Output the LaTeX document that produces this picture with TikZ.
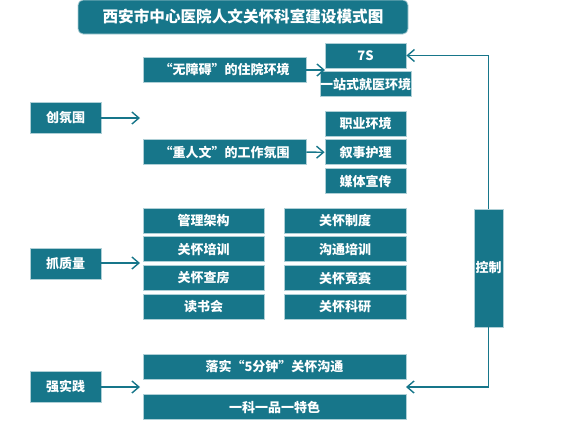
\documentclass[tikz,border=0pt]{standalone}
\usepackage{fontspec}
\setmainfont{Noto Sans CJK SC}
\usepackage{tikz}
\usetikzlibrary{arrows.meta,positioning}
\definecolor{kteal}{HTML}{17768A}
\tikzset{
	box/.style={draw=white!65!kteal, line width=0.8pt, fill=kteal, text=white, inner sep=0pt, minimum height=25pt, font=\fontsize{13}{15}\selectfont\bfseries},
	side/.style={box, minimum width=71pt, minimum height=31pt},
	titlebox/.style={box, rounded corners=5pt, minimum width=330pt, minimum height=34pt, font=\fontsize{15.6}{18}\selectfont\bfseries},
	link/.style={draw=kteal, line width=1.4pt, -{Straight Barb[length=7pt,width=12pt,line width=1.4pt]}}
}
\begin{document}
\begin{tikzpicture}[x=1pt, y=-1pt, node distance=3pt]
	\useasboundingbox (0,0) rectangle (568,445);
	\node[titlebox] (title) at (243,17) {西安市中心医院人文关怀科室建设模式图};
	% left column
	\node[side] (chuang) at (65.5,118) {创氛围};
	\node[side] (zhua) at (65.5,263.5) {抓质量};
	\node[side] (qiang) at (65.5,386.5) {强实践};
	% atmosphere
	\node[box, minimum width=163pt] (wza) at (224.5,69.5) {“无障碍”的住院环境};
	\node[box, minimum width=163pt] (zrw) at (224.5,152) {“重人文”的工作氛围};
	\node[box, minimum width=81pt] (s7) at (365.5,55.5) {7S};
	\node[box, minimum width=81pt, below=of s7] (yzs) {一站式就医环境};
	\node[box, minimum width=81pt] (zyhj) at (365.5,123.5) {职业环境};
	\node[box, minimum width=81pt, below=of zyhj] (xshl) {叙事护理};
	\node[box, minimum width=81pt, below=of xshl] (mtxc) {媒体宣传};
	% quality
	\node[box, minimum width=121pt] (gljg) at (203.5,220.5) {管理架构};
	\node[box, minimum width=121pt, below=of gljg] (ghpx) {关怀培训};
	\node[box, minimum width=121pt, below=of ghpx] (gjcf) {关怀查房};
	\node[box, minimum width=121pt, below=of gjcf] (dsh) {读书会};
	\node[box, minimum width=122pt] (gjzd) at (345,220.5) {关怀制度};
	\node[box, minimum width=122pt, below=of gjzd] (gtpx) {沟通培训};
	\node[box, minimum width=122pt, below=of gtpx] (gjjs) {关怀竞赛};
	\node[box, minimum width=122pt, below=of gjjs] (gjky) {关怀科研};
	% practice
	\node[box, minimum width=263pt] (lsgt) at (274.5,366.5) {落实“5分钟”关怀沟通};
	\node[box, minimum width=263pt, below=15pt of lsgt] (ykyp) {一科一品一特色};
	% control
	\node[box, minimum width=29pt, minimum height=118pt] (kz) at (488.5,268) {控制};
	\coordinate (chuangend) at (140,118);
	\coordinate (zhuaend) at (140,263);
	\coordinate (qiangend) at (140,387);
	\coordinate (envin) at (325,70);
	\coordinate (pracin) at (406,387);
	\draw[link] (chuang) -- (chuangend);
	\draw[link] (zhua.east |- zhuaend) -- (zhuaend);
	\draw[link] (qiang.east |- qiangend) -- (qiangend);
	\draw[link] (wza.east |- envin) -- (envin);
	\draw[link] (zrw) -- (xshl);
	\draw[link] (kz.north) |- (s7.east);
	\draw[link] (kz.south) |- (pracin);
\end{tikzpicture}
\end{document}
